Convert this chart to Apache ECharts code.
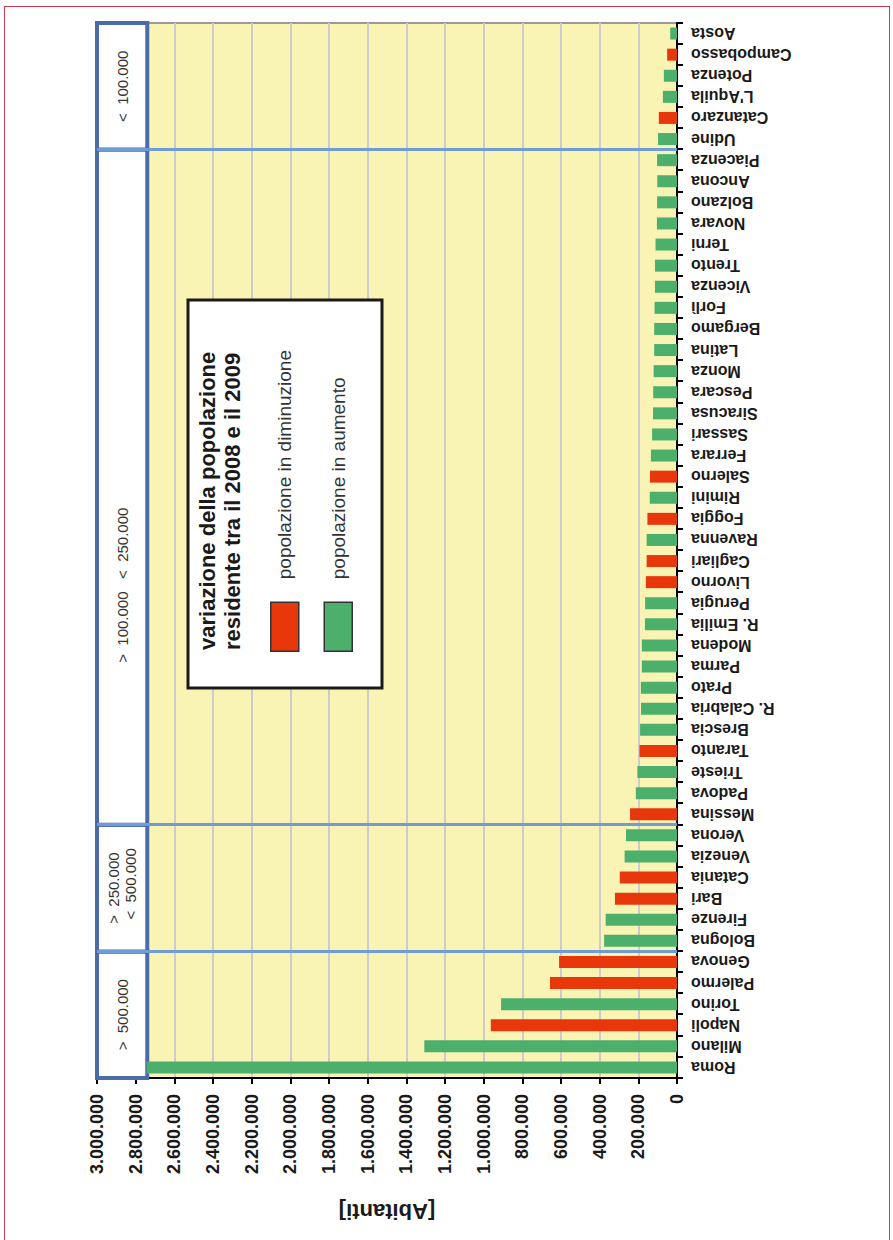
<!DOCTYPE html>
<html>
<head>
<meta charset="utf-8">
<title>Popolazione residente 2008-2009</title>
<script src="https://cdn.jsdelivr.net/npm/echarts@6/dist/echarts.min.js"></script>
<style>
	html, body { margin: 0; padding: 0; background: #fff; }
	#frame { position: absolute; left: 4px; top: 6px; width: 884px; height: 1240px; border: 1px solid #c93a52; border-bottom: none; }
	/* the chart is laid out landscape and turned a quarter left, like the scanned page */
	#chart { position: absolute; left: 0; top: 0; width: 1240px; height: 893px; transform-origin: 0 0; transform: translate(0, 1240px) rotate(-90deg); }
</style>
</head>
<body>
<div id="frame"></div>
<div id="chart"></div>
<script>
var cities = ['Roma', 'Milano', 'Napoli', 'Torino', 'Palermo', 'Genova',
	'Bologna', 'Firenze', 'Bari', 'Catania', 'Venezia', 'Verona',
	'Messina', 'Padova', 'Trieste', 'Taranto', 'Brescia', 'R. Calabria', 'Prato', 'Parma',
	'Modena', 'R. Emilia', 'Perugia', 'Livorno', 'Cagliari', 'Ravenna', 'Foggia', 'Rimini',
	'Salerno', 'Ferrara', 'Sassari', 'Siracusa', 'Pescara', 'Monza', 'Latina', 'Bergamo',
	'Forlì', 'Vicenza', 'Trento', 'Terni', 'Novara', 'Bolzano', 'Ancona', 'Piacenza',
	'Udine', 'Catanzaro', "L'Aquila", 'Potenza', 'Campobasso', 'Aosta'];

var abitanti = [2743000, 1307000, 963000, 910000, 657000, 610000,
	377000, 369000, 321000, 296000, 271000, 264000,
	243000, 213000, 205000, 194000, 191000, 186000, 187000, 182000,
	182000, 166000, 165000, 161000, 157000, 157000, 153000, 141000,
	140000, 135000, 129000, 124000, 123000, 121000, 118000, 118000,
	116000, 114000, 114000, 111000, 104000, 103000, 102000, 103000,
	98000, 94000, 73000, 68000, 51000, 35000];

// 1 = popolazione in diminuzione, 0 = in aumento
var inCalo = [0, 0, 1, 0, 1, 1,
	0, 0, 1, 1, 0, 0,
	1, 0, 0, 1, 0, 0, 0, 0,
	0, 0, 0, 1, 1, 0, 1, 0,
	1, 0, 0, 0, 0, 0, 0, 0,
	0, 0, 0, 0, 0, 0, 0, 0,
	0, 1, 0, 0, 1, 0];

var fasceNomi = ['>  500.000', '>  250.000\n  <  500.000', '>  100.000   <  250.000', '<  100.000'];
var fasceInizio = [0, 6, 12, 44];
var fasceFine = [6, 12, 44, 50];

var serieNomi = ['popolazione in diminuzione', 'popolazione in aumento'];
var titolo = 'variazione della popolazione\nresidente tra il 2008 e il 2009';
var asseMax = 3000000;

(function() {
	var font = '"Liberation Sans", Arial, sans-serif';
	var chart = echarts.init(document.getElementById('chart'), null, { renderer: 'svg' });

	var calo = [], aumento = [];
	abitanti.forEach(function(v, i) {
		calo.push(inCalo[i] ? v : '-');
		aumento.push(inCalo[i] ? '-' : v);
	});

	var areas = [], separatori = [];
	fasceNomi.forEach(function(nome, i) {
		var p = { xAxis: fasceInizio[i], yAxis: 2740000, name: nome };
		if (i == 2) p.label = { offset: [-98, 0] };
		areas.push([p, { xAxis: fasceFine[i], yAxis: asseMax }]);
		if (i > 0) {
			separatori.push([{ coord: [fasceInizio[i], 0] }, { coord: [fasceInizio[i], asseMax] }]);
		}
	});

	function puntini(v) {
		return String(v).replace(/\B(?=(\d{3})+(?!\d))/g, '.');
	}

	var option = {
		animation: false,
		textStyle: { fontFamily: font },
		title: {
			text: titolo,
			left: 590,
			top: 195,
			padding: 0,
			z: 6,
			textStyle: { fontSize: 22, fontWeight: 'bold', lineHeight: 25, color: '#1a1a1a', fontFamily: font }
		},
		legend: {
			orient: 'vertical',
			left: 588,
			top: 270,
			padding: 0,
			itemWidth: 49,
			itemHeight: 28,
			itemGap: 24,
			icon: 'rect',
			selectedMode: false,
			z: 6,
			data: serieNomi,
			itemStyle: { borderColor: '#333', borderWidth: 1.5 },
			textStyle: { fontSize: 19, color: '#333', fontFamily: font, padding: [0, 0, 0, 18] }
		},
		graphic: [{
			type: 'rect',
			z: 5,
			shape: { x: 552, y: 188, width: 388, height: 194 },
			style: { fill: '#fff', stroke: '#1a1a1a', lineWidth: 3 }
		}],
		grid: {
			left: 162, right: 23, top: 97, bottom: 216,
			show: true,
			backgroundColor: '#faf4b4',
			borderColor: '#9a9a9a',
			borderWidth: 2
		},
		xAxis: [{
			type: 'category',
			data: cities,
			position: 'bottom',
			axisLine: { lineStyle: { color: '#000', width: 2 } },
			axisTick: { show: true, length: 6, lineStyle: { color: '#000', width: 2 } },
			axisLabel: { rotate: 90, interval: 0, margin: 14, fontSize: 16, fontWeight: 'bold', color: '#1a1a1a', fontFamily: font },
			splitLine: { show: false }
		}, {
			type: 'value',
			min: 0,
			max: cities.length,
			show: false
		}],
		yAxis: {
			type: 'value',
			min: 0,
			max: asseMax,
			interval: 200000,
			name: '[Abitanti]',
			nameLocation: 'middle',
			nameRotate: 90,
			nameGap: 122,
			nameTextStyle: { fontSize: 22, fontWeight: 'bold', color: '#1a1a1a', fontFamily: font },
			axisLine: { show: true, lineStyle: { color: '#000', width: 2 } },
			axisTick: { show: true, length: 6, lineStyle: { color: '#000', width: 2 } },
			axisLabel: { margin: 16, fontSize: 18, fontWeight: 'bold', color: '#1a1a1a', fontFamily: font, formatter: puntini },
			splitLine: { lineStyle: { color: '#cccccc', width: 2 } }
		},
		series: [{
			name: serieNomi[0],
			type: 'bar',
			stack: 'pop',
			barWidth: 12,
			itemStyle: { color: '#e8380b' },
			data: calo
		}, {
			name: serieNomi[1],
			type: 'bar',
			stack: 'pop',
			barWidth: 12,
			itemStyle: { color: '#4daf6c' },
			data: aumento
		}, {
			name: 'fasce',
			type: 'line',
			xAxisIndex: 1,
			yAxisIndex: 0,
			data: [],
			silent: true,
			markArea: {
				silent: true,
				itemStyle: { color: '#fff', borderColor: '#4a6aa8', borderWidth: 4 },
				label: { show: true, position: 'inside', color: '#333', fontSize: 15, lineHeight: 17, fontFamily: font },
				data: areas
			},
			markLine: {
				silent: true,
				symbol: 'none',
				label: { show: false },
				lineStyle: { color: '#6f9bd6', width: 3, type: 'solid' },
				data: separatori
			}
		}]
	};

	chart.setOption(option);
})();
</script>
</body>
</html>
